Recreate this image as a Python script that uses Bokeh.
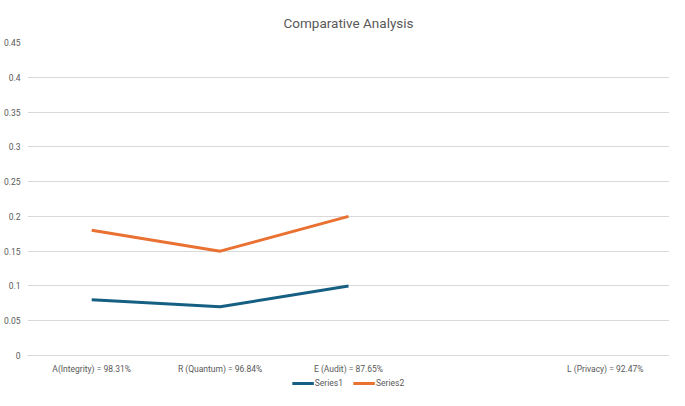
from bokeh.plotting import figure
from bokeh.layouts import column
from bokeh.models import FactorRange, Range1d, FixedTicker, Legend, LegendItem, ColumnDataSource
from bokeh.embed import file_html
from bokeh.resources import INLINE

categories = ["A(Integrity) = 98.31%", "R (Quantum) = 96.84%", "E (Audit) = 87.65%", " ", "L (Privacy) = 92.47%"]
series_names = ["Series1", "Series2"]
series1 = [0.08, 0.07, 0.10, float("nan"), float("nan")]
series2 = [0.18, 0.15, 0.20, float("nan"), float("nan")]
y_ticks = [0, 0.05, 0.1, 0.15, 0.2, 0.25, 0.3, 0.35, 0.4, 0.45]
y_tick_labels = ["0", "0.05", "0.1", "0.15", "0.2", "0.25", "0.3", "0.35", "0.4", "0.45"]

FONT = "Roboto"
GRAY = "#595959"
COLORS = ["#156082", "#E97132"]

src = ColumnDataSource(dict(cat=categories, s1=series1, s2=series2))

p = figure(width=669, height=376, x_range=FactorRange(*categories), y_range=Range1d(0, 0.45),
           output_backend="svg", toolbar_location=None,
           min_border_left=26, min_border_right=0, min_border_top=40, min_border_bottom=21)
p.title.text = "Comparative Analysis"
p.title.align = "center"
p.title.text_font = FONT
p.title.text_font_style = "normal"
p.title.text_font_size = "13.5px"
p.title.text_color = GRAY
p.title.standoff = 24
p.outline_line_color = None

p.line("cat", "s1", source=src, line_color=COLORS[0], line_width=3)
p.line("cat", "s2", source=src, line_color=COLORS[1], line_width=3)

p.yaxis.ticker = FixedTicker(ticks=y_ticks)
p.yaxis.major_label_overrides = {t: l for t, l in zip(y_ticks, y_tick_labels)}
p.yaxis.axis_line_color = None
p.yaxis.major_tick_line_color = None
p.yaxis.minor_tick_line_color = None
p.yaxis.major_tick_out = 0
p.yaxis.major_label_standoff = 7
p.yaxis.major_label_text_font = FONT
p.yaxis.major_label_text_font_size = "8.5px"
p.yaxis.major_label_text_color = GRAY

p.xaxis.axis_line_color = "#D9D9D9"
p.xaxis.major_tick_line_color = None
p.xaxis.minor_tick_line_color = None
p.xaxis.major_tick_out = 0
p.xaxis.major_label_standoff = 8
p.xaxis.major_label_text_font = FONT
p.xaxis.major_label_text_font_size = "8.5px"
p.xaxis.major_label_text_color = GRAY

p.xgrid.grid_line_color = None
p.ygrid.grid_line_color = "#D9D9D9"
p.ygrid.grid_line_width = 1

# legend strip below the chart (series drawn out of view; only the legend shows)
lg = figure(width=669, height=14, x_range=FactorRange(*categories), y_range=Range1d(10, 11),
            output_backend="svg", toolbar_location=None,
            x_axis_type=None, y_axis_type=None,
            min_border_left=0, min_border_right=0, min_border_top=0, min_border_bottom=0)
lg.outline_line_color = None
lg.xgrid.grid_line_color = None
lg.ygrid.grid_line_color = None
items = []
for name, col, c in zip(series_names, ["s1", "s2"], COLORS):
    r = lg.line("cat", col, source=src, line_color=c, line_width=3)
    items.append(LegendItem(label=name, renderers=[r]))
legend = Legend(items=items, orientation="horizontal", location="center",
                label_text_font=FONT, label_text_font_size="8.5px", label_text_color=GRAY,
                glyph_width=22, glyph_height=10, label_standoff=1, spacing=10,
                padding=0, margin=0, border_line_color=None, background_fill_alpha=0)
lg.add_layout(legend, "center")

layout = column(p, lg, spacing=0)
open("out.html", "w").write(file_html(layout, INLINE))
